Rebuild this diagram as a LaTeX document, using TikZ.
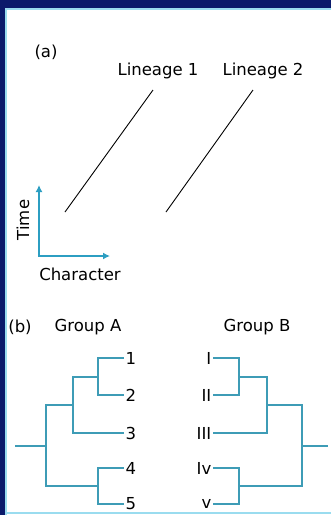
\documentclass[tikz,border=0pt]{standalone}
\usepackage{fontspec}
\setmainfont{DejaVu Sans}
\usetikzlibrary{arrows.meta,positioning}
\definecolor{framenavy}{HTML}{0B1A6B}
\definecolor{edgecyan}{HTML}{9ADCEF}
\definecolor{treeteal}{HTML}{3E9CB6}
\definecolor{axteal}{HTML}{2C9EC2}
\tikzset{
  lbl/.style={font=\fontsize{16.5}{18}\selectfont, inner sep=1.5pt},
  br/.style={draw=treeteal, line width=1.7pt},
  ax/.style={{Latex[length=7pt,width=7pt]}-{Latex[length=7pt,width=7pt]}, draw=axteal, line width=1.8pt},
  lin/.style={draw=black, line width=0.9pt}
}

\begin{document}
\begin{tikzpicture}[x=1pt,y=-1pt]
\useasboundingbox (0,0) rectangle (331,515);
\fill[white] (0,0) rectangle (331,515);
% frame
\fill[framenavy] (0,0) rectangle (331,8);
\fill[framenavy] (0,0) rectangle (5,515);
\fill[edgecyan] (5,8) rectangle (331,10);
\fill[edgecyan] (5,8) rectangle (7,515);
\fill[edgecyan] (5,512) rectangle (331,514);
% (a)
\node[lbl] (pa)   at (46,52)  {(a)};
\node[lbl] (lin1) at (158,71) {Lineage 1};
\node[lbl] (lin2) at (263,71) {Lineage 2};
\coordinate (l1top) at (153,90);
\coordinate (l1bot) at (65,212);
\coordinate (l2top) at (253,90);
\coordinate (l2bot) at (166,212);
\draw[lin] (l1bot) -- (l1top);
\draw[lin] (l2bot) -- (l2top);
\coordinate (org)  at (39,256);
\coordinate (tEnd) at (39,185);
\coordinate (cEnd) at (110,256);
\draw[ax] (tEnd) -- (org) -- (cEnd);
\node[lbl, rotate=90] (time) at (23,220) {Time};
\node[lbl] (chr) at (80,274) {Character};
% (b)
\node[lbl] (pb)   at (20,327)  {(b)};
\node[lbl] (grpA) at (88,327)  {Group A};
\node[lbl] (grpB) at (257,327) {Group B};
% group A
\node[lbl, anchor=west] (a1) at (124,358) {1};
\node[lbl, anchor=west] (a2) at (124,395) {2};
\node[lbl, anchor=west] (a3) at (124,433) {3};
\node[lbl, anchor=west] (a4) at (124,468) {4};
\node[lbl, anchor=west] (a5) at (124,504) {5};
\coordinate (nA12)  at (98,377);
\coordinate (nA123) at (73,405);
\coordinate (nA45)  at (98,486);
\coordinate (nArt)  at (46,446);
\coordinate (rA)    at (15,446);
\draw[br] (nA12) |- (a1.west);
\draw[br] (nA12) |- (a2.west);
\draw[br] (nA123) |- (nA12);
\draw[br] (nA123) |- (a3.west);
\draw[br] (nA45) |- (a4.west);
\draw[br] (nA45) |- (a5.west);
\draw[br] (nArt) |- (nA123);
\draw[br] (nArt) |- (nA45);
\draw[br] (rA) -- (nArt);
% group B
\node[lbl, anchor=east] (b1) at (213,358) {I};
\node[lbl, anchor=east] (b2) at (213,395) {II};
\node[lbl, anchor=east] (b3) at (213,433) {III};
\node[lbl, anchor=east] (b4) at (213,468) {Iv};
\node[lbl, anchor=east] (b5) at (213,504) {v};
\coordinate (nB12)  at (239,377);
\coordinate (nB123) at (267,405);
\coordinate (nB45)  at (239,486);
\coordinate (nBrt)  at (302,446);
\coordinate (rB)    at (328,446);
\draw[br] (nB12) |- (b1.east);
\draw[br] (nB12) |- (b2.east);
\draw[br] (nB123) |- (nB12);
\draw[br] (nB123) |- (b3.east);
\draw[br] (nB45) |- (b4.east);
\draw[br] (nB45) |- (b5.east);
\draw[br] (nBrt) |- (nB123);
\draw[br] (nBrt) |- (nB45);
\draw[br] (nBrt) -- (rB);
\end{tikzpicture}
\end{document}
